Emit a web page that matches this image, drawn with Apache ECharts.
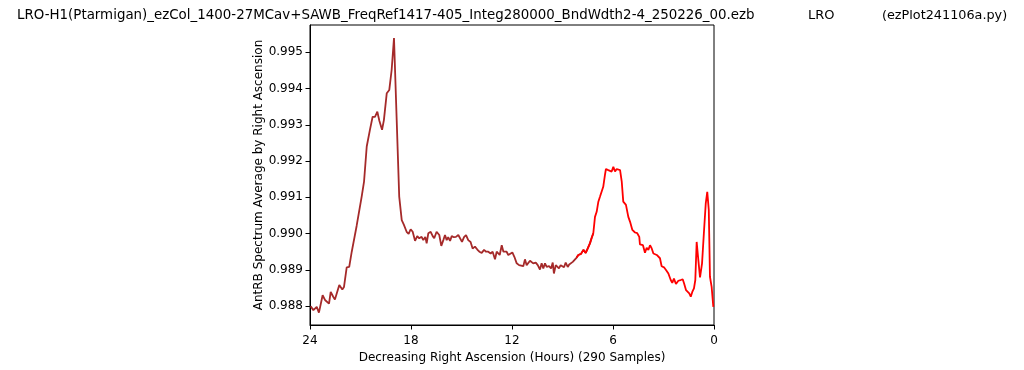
<!DOCTYPE html>
<html>
<head>
<meta charset="utf-8">
<script src="https://cdn.jsdelivr.net/npm/echarts@6/dist/echarts.min.js"></script>
<style>
html,body{margin:0;padding:0;background:#fff;}
#chart{width:1024px;height:370px;}
</style>
</head>
<body>
<div id="chart"></div>
<script>
// Right ascension (hours) of traced samples
const ra = [23.96,23.80,23.60,23.47,23.25,23.11,23.01,22.87,22.77,22.62,22.52,22.26,22.08,21.98,21.82,21.67,21.52,21.43,21.23,21.13,
  20.93,20.79,20.63,20.54,20.44,20.28,20.14,20.00,19.88,19.72,19.61,19.44,19.29,19.15,19.01,18.85,18.70,18.55,18.42,18.26,
  18.14,18.02,17.90,17.76,17.63,17.51,17.37,17.27,17.15,17.07,16.97,16.83,16.71,16.62,16.48,16.32,16.20,16.08,15.98,15.88,
  15.79,15.68,15.58,15.45,15.33,15.19,15.09,14.97,14.85,14.73,14.60,14.46,14.34,14.20,14.06,13.94,13.80,13.66,13.54,13.41,
  13.27,13.15,13.01,12.91,12.81,12.73,12.61,12.51,12.42,12.32,12.22,12.12,11.98,11.86,11.72,11.58,11.47,11.33,11.23,11.13,
  11.03,10.93,10.83,10.74,10.59,10.47,10.34,10.24,10.14,10.04,9.94,9.80,9.68,9.58,9.51,9.40,9.31,9.21,9.11,9.01,
  8.91,8.81,8.69,8.60,8.50,8.39,8.30,8.16,8.06,7.90,7.76,7.62,7.50,7.37,7.27,7.17,7.07,6.97,6.87,6.77,
  6.67,6.58,6.48,6.42,6.28,6.18,6.08,5.98,5.88,5.78,5.68,5.58,5.48,5.39,5.23,5.09,4.99,4.85,4.69,4.56,
  4.44,4.40,4.30,4.22,4.10,4.00,3.90,3.80,3.70,3.60,3.50,3.40,3.31,3.21,3.11,2.97,2.81,2.71,2.57,2.48,
  2.38,2.26,2.12,1.98,1.86,1.78,1.66,1.56,1.47,1.38,1.29,1.19,1.11,1.03,0.93,0.83,0.71,0.59,0.49,0.40,
  0.31,0.24,0.14,0.04];
// AntRB spectrum average values
const antRB = [0.98800,0.98789,0.98798,0.98782,0.98830,0.98817,0.98821,0.98807,0.98839,0.98826,0.98818,0.98858,0.98846,0.98853,0.98907,0.98908,0.98950,0.98955,0.99021,0.99017,
  0.99102,0.99143,0.99240,0.99244,0.99286,0.99322,0.99322,0.99336,0.99311,0.99286,0.99313,0.99387,0.99396,0.99451,0.99539,0.99313,0.99102,0.99037,0.99024,0.99005,
  0.98999,0.99012,0.99005,0.98980,0.98993,0.98987,0.98991,0.98982,0.98991,0.98973,0.99001,0.99005,0.98993,0.98987,0.99005,0.98996,0.98966,0.98982,0.98996,0.98982,
  0.98990,0.98980,0.98993,0.98990,0.98991,0.98996,0.98999,0.98977,0.98990,0.98996,0.98982,0.98977,0.98959,0.98964,0.98956,0.98950,0.98947,0.98955,0.98950,0.98950,
  0.98945,0.98950,0.98929,0.98950,0.98945,0.98941,0.98968,0.98950,0.98945,0.98950,0.98941,0.98945,0.98948,0.98936,0.98918,0.98913,0.98918,0.98910,0.98929,0.98913,
  0.98918,0.98925,0.98922,0.98918,0.98920,0.98913,0.98901,0.98918,0.98904,0.98918,0.98908,0.98910,0.98904,0.98920,0.98890,0.98913,0.98908,0.98904,0.98913,0.98910,
  0.98907,0.98920,0.98908,0.98915,0.98920,0.98922,0.98925,0.98934,0.98941,0.98944,0.98955,0.98947,0.98959,0.98973,0.98988,0.99001,0.99046,0.99060,0.99088,0.99102,
  0.99099,0.99129,0.99161,0.99178,0.99175,0.99180,0.99171,0.99184,0.99171,0.99178,0.99175,0.99175,0.99143,0.99088,0.99079,0.99046,0.99033,0.99010,0.99003,0.99001,
  0.98991,0.98970,0.98971,0.98968,0.98947,0.98961,0.98955,0.98968,0.98959,0.98945,0.98947,0.98941,0.98944,0.98932,0.98910,0.98907,0.98897,0.98890,0.98872,0.98864,
  0.98876,0.98861,0.98870,0.98872,0.98874,0.98863,0.98844,0.98849,0.98835,0.98826,0.98839,0.98849,0.98872,0.98977,0.98927,0.98879,0.98918,0.99010,0.99083,0.99115,
  0.99065,0.98881,0.98853,0.98798];
const xTicks = [24, 18, 12, 6, 0];
const yTicks = [0.988, 0.989, 0.990, 0.991, 0.992, 0.993, 0.994, 0.995];
const titleParts = ['LRO-H1(Ptarmigan)_ezCol_1400-27MCav+SAWB_FreqRef1417-405_Integ280000_BndWdth2-4_250226_00.ezb', 'LRO', '(ezPlot241106a.py)'];
const xName = 'Decreasing Right Ascension (Hours) (290 Samples)';
const yName = 'AntRB Spectrum Average by Right Ascension';
const brownUntil = 7.1;  // brown segment covers RA >= this
const redFrom = 8.2;     // red segment covers RA <= this

const pairs = ra.map((r, i) => [r, antRB[i]]);
const brownData = pairs.filter(p => p[0] >= brownUntil);
const redData = pairs.filter(p => p[0] <= redFrom);

const FONT = '"DejaVu Sans", sans-serif';
const chart = echarts.init(document.getElementById('chart'), null, {renderer: 'canvas'});
chart.setOption({
  animation: false,
  backgroundColor: '#fff',
  grid: {left: 310, right: 310, top: 25, bottom: 45, show: true, borderColor: '#000', borderWidth: 1, backgroundColor: 'transparent'},
  graphic: [
    {type: 'text', x: 17, y: 16, style: {text: titleParts[0], font: '13.4px ' + FONT, fill: '#000', verticalAlign: 'middle'}},
    {type: 'text', x: 808, y: 16, style: {text: titleParts[1], font: '13px ' + FONT, fill: '#000', verticalAlign: 'middle'}},
    {type: 'text', x: 882, y: 16, style: {text: titleParts[2], font: '12.8px ' + FONT, fill: '#000', verticalAlign: 'middle'}}
  ],
  xAxis: {
    type: 'value', min: 0, max: 24, interval: 6, inverse: true,
    name: xName, nameLocation: 'middle', nameGap: 25,
    nameTextStyle: {color: '#000', fontSize: 12, fontFamily: FONT},
    axisLine: {show: true, onZero: false, lineStyle: {color: '#000', width: 1}},
    axisTick: {show: true, length: 4.5, lineStyle: {color: '#000'}, customValues: xTicks},
    axisLabel: {color: '#000', fontSize: 12, fontFamily: FONT, margin: 10, customValues: xTicks},
    splitLine: {show: false}
  },
  yAxis: {
    type: 'value', min: 0.98748, max: 0.99575,
    name: yName, nameLocation: 'middle', nameGap: 37,
    nameTextStyle: {color: '#000', fontSize: 12, fontFamily: FONT},
    axisLine: {show: true, onZero: false, lineStyle: {color: '#000', width: 1}},
    axisTick: {show: true, length: 4.5, lineStyle: {color: '#000'}, customValues: yTicks},
    axisLabel: {color: '#000', fontSize: 12, fontFamily: FONT, margin: 7, customValues: yTicks,
      formatter: v => v.toFixed(3)},
    splitLine: {show: false}
  },
  series: [
    {type: 'line', data: brownData, showSymbol: false, lineStyle: {color: '#a52a2a', width: 1.8}, itemStyle: {color: '#a52a2a'}, z: 2},
    {type: 'line', data: redData, showSymbol: false, lineStyle: {color: '#ff0000', width: 1.8}, itemStyle: {color: '#ff0000'}, z: 3}
  ]
});
</script>
</body>
</html>
